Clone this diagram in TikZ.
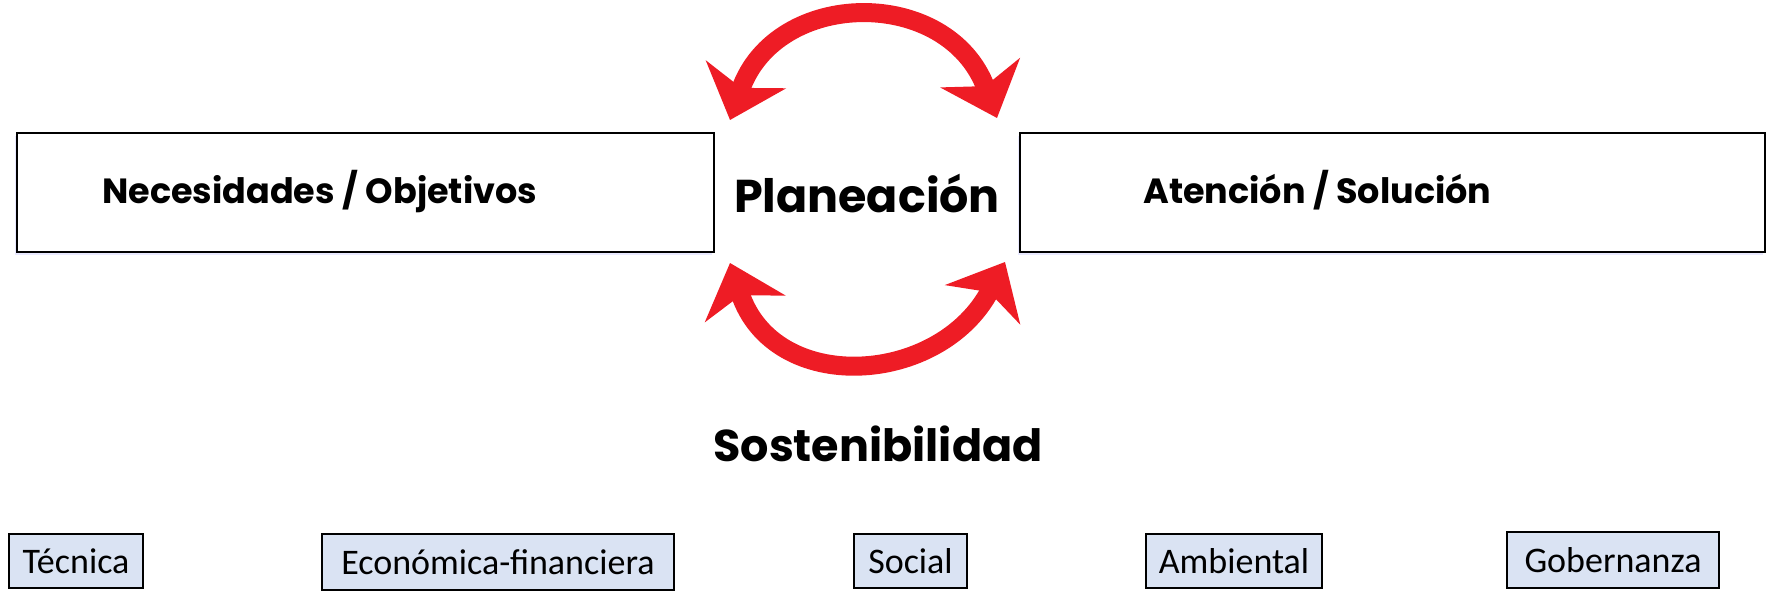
\documentclass[tikz,border=0pt]{standalone}
\usepackage{fontspec}
\setmainfont{Carlito}
\newfontfamily\gothic{Poppins}
\usetikzlibrary{arrows.meta,shadows}
\definecolor{boxblue}{HTML}{DAE3F3}
\definecolor{arrred}{HTML}{EE1C25}
\tikzset{
  bigbox/.style={draw=black, line width=1.8pt, fill=white, minimum height=119pt,
    drop shadow={shadow xshift=-2pt, shadow yshift=-3pt, fill=blue!25, opacity=0.35}},
  bigtext/.style={font=\gothic\bfseries\fontsize{35}{38}\selectfont, anchor=west, inner sep=0pt},
  titletext/.style={font=\gothic\bfseries\fontsize{46}{50}\selectfont, inner sep=0pt},
  dimbox/.style={draw=black, line width=1.3pt, fill=boxblue, minimum height=54pt,
    font=\fontsize{36}{40}\selectfont, inner sep=0pt},
  cyclearrow/.style={draw=arrred, line width=19pt,
    {Stealth[length=48pt, width=84pt, inset=14pt]}-{Stealth[length=48pt, width=84pt, inset=14pt]}}
}
\begin{document}
\begin{tikzpicture}[x=1pt, y=-1pt]
\useasboundingbox (0,0) rectangle (1771,591);
% big boxes
\node[bigbox, minimum width=697pt] (needs) at (365.5,192.5) {};
\node[bigbox, minimum width=745pt] (attn) at (1392.5,192.5) {};
\node[bigtext] (needsT) at (102,192) {Necesidades / Objetivos};
\node[bigtext] (attnT) at (1143,190) {Atención / Solución};
\node[titletext] (plan) at (867,194) {Planeación};
% cycle arrows
\coordinate (tl) at (730,120);
\coordinate (tr) at (997,118);
\coordinate (bl) at (730,263);
\coordinate (br) at (1005,262);
\draw[cyclearrow] (tl) .. controls (776,-12) and (948,-14) .. (tr);
\draw[cyclearrow] (bl) .. controls (774,396) and (940,386) .. (br);
% sustainability
\node[titletext, font=\gothic\bfseries\fontsize{44.5}{48}\selectfont] (sost) at (878,444) {Sostenibilidad};
\node[dimbox, minimum width=134pt] (tec) at (76,561) {Técnica};
\node[dimbox, minimum width=352pt, minimum height=56pt] (eco) at (498,562) {Económica-financiera};
\node[dimbox, minimum width=113pt] (soc) at (910.5,561) {Social};
\node[dimbox, minimum width=176pt] (amb) at (1234,561) {Ambiental};
\node[dimbox, minimum width=212pt, minimum height=56pt] (gob) at (1613,560) {Gobernanza};
\end{tikzpicture}
\end{document}
